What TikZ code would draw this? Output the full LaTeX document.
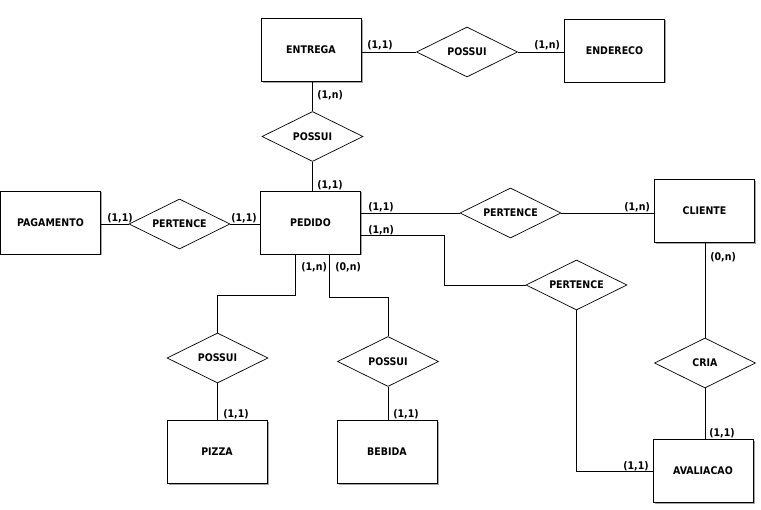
\documentclass[tikz,border=0pt]{standalone}
\usepackage{fontspec}
\setmainfont{DejaVu Sans Condensed}
\usetikzlibrary{shapes.geometric,shadows}

\begin{document}
\begin{tikzpicture}[
  x=1pt, y=-1pt,
  line width=0.7pt,
  entity/.style = {shape=rectangle, draw, fill=white, minimum width=100pt, minimum height=63pt,
    font=\fontsize{10.5}{12}\selectfont\bfseries,
    drop shadow={shadow xshift=1.5pt, shadow yshift=-1.5pt, fill=gray!70, opacity=1}},
  relation/.style = {shape=diamond, draw, fill=white, aspect=2, minimum width=101pt, minimum height=50pt,
    inner sep=1pt, font=\fontsize{10.5}{12}\selectfont\bfseries},
  card/.style = {anchor=west, inner sep=0pt, font=\fontsize{10.5}{12}\selectfont\bfseries}
]
  \useasboundingbox (0,0) rectangle (761,510);

  % entidades
  \node[entity] (entrega)   at (311,50)    {ENTREGA};
  \node[entity] (endereco)  at (614.5,50.5) {ENDERECO};
  \node[entity] (pagamento) at (50.5,222.5) {PAGAMENTO};
  \node[entity] (pedido)    at (310.5,222.5) {PEDIDO};
  \node[entity] (cliente)   at (704.5,211)  {CLIENTE};
  \node[entity] (pizza)     at (217,452)    {PIZZA};
  \node[entity] (bebida)    at (387,452)    {BEBIDA};
  \node[entity] (avaliacao) at (703,471)    {AVALIACAO};

  % relacionamentos
  \node[relation] (possuiEnd) at (467,52)     {POSSUI};
  \node[relation] (possuiEnt) at (312.5,136.5) {POSSUI};
  \node[relation] (pertPag)   at (179.5,224)  {PERTENCE};
  \node[relation] (pertCli)   at (510.5,213)  {PERTENCE};
  \node[relation] (pertAva)   at (576.5,285)  {PERTENCE};
  \node[relation] (possuiPiz) at (217.5,358)  {POSSUI};
  \node[relation] (possuiBeb) at (388,361.5)  {POSSUI};
  \node[relation] (cria)      at (705,363)    {CRIA};

  % pontos de dobra
  \coordinate (bendAva) at (444,285);
  \coordinate (bendPiz) at (217.5,295);
  \coordinate (bendBeb) at (388,297);

  % ligacoes
  \draw (possuiEnd.west) -- (possuiEnd.west -| entrega.east);
  \draw (possuiEnd.east) -- (possuiEnd.east -| endereco.west);
  \draw (possuiEnt.north) -- (possuiEnt.north |- entrega.south);
  \draw (possuiEnt.south) -- (possuiEnt.south |- pedido.north);
  \draw (pertPag.west) -- (pertPag.west -| pagamento.east);
  \draw (pertPag.east) -- (pertPag.east -| pedido.west);
  \draw (pertCli.west) -- (pertCli.west -| pedido.east);
  \draw (pertCli.east) -- (pertCli.east -| cliente.west);
  \draw ([yshift=-12.5pt]pedido.east) -| (bendAva) -- (pertAva.west);
  \draw (pertAva.south) |- (avaliacao.west);
  \draw (cria.north) -- (cria.north |- cliente.south);
  \draw (cria.south) -- (cria.south |- avaliacao.north);
  \draw ([xshift=-15pt]pedido.south) |- (bendPiz) -- (possuiPiz.north);
  \draw ([xshift=19pt]pedido.south) |- (bendBeb) -- (possuiBeb.north);
  \draw (possuiPiz.south) -- (possuiPiz.south |- pizza.north);
  \draw (possuiBeb.south) -- (possuiBeb.south |- bebida.north);

  % cardinalidades
  \node[card] (cEntPos)  at (367,45)  {(1,1)};
  \node[card] (cEndPos)  at (534,45)  {(1,n)};
  \node[card] (cEntPed)  at (317,95)  {(1,n)};
  \node[card] (cPedEnt)  at (317,185) {(1,1)};
  \node[card] (cPagPed)  at (107,218) {(1,1)};
  \node[card] (cPedPag)  at (231,218) {(1,1)};
  \node[card] (cPedCli)  at (368,207) {(1,1)};
  \node[card] (cPedAva)  at (368,230) {(1,n)};
  \node[card] (cCliPed)  at (624,207) {(1,n)};
  \node[card] (cCliAva)  at (710,257) {(0,n)};
  \node[card] (cPedPiz)  at (301,267) {(1,n)};
  \node[card] (cPedBeb)  at (335,267) {(0,n)};
  \node[card] (cPizPed)  at (223,414) {(1,1)};
  \node[card] (cBebPed)  at (393,414) {(1,1)};
  \node[card] (cAvaCli)  at (709,433) {(1,1)};
  \node[card] (cAvaPed)  at (623,466) {(1,1)};
\end{tikzpicture}
\end{document}
